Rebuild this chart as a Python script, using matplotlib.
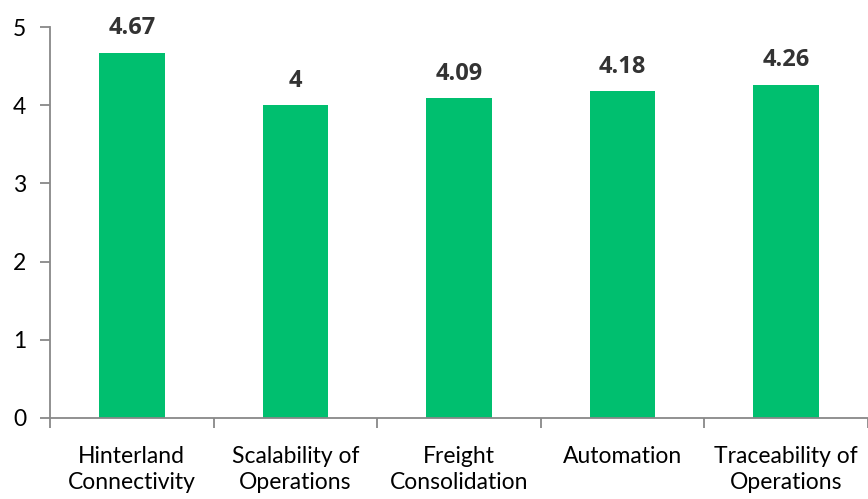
import numpy as np
import matplotlib.pyplot as plt

categories = ["Hinterland\nConnectivity", "Scalability of\nOperations", "Freight\nConsolidation",
              "Automation", "Traceability of\nOperations"]
scores = [4.67, 4, 4.09, 4.18, 4.26]
score_labels = ["4.67", "4", "4.09", "4.18", "4.26"]

plt.rcParams['font.family'] = ['Lato', 'DejaVu Sans']

fig = plt.figure(figsize=(8.68, 4.99), dpi=100)
ax = fig.add_axes([50 / 868, 1 - 418 / 499, 1 - 50 / 868, (418 - 27) / 499])

x = np.arange(len(categories))
bars = ax.bar(x, scores, width=0.4, color="#00BF6F", zorder=2)

for b, lab in zip(bars, score_labels):
    ax.annotate(lab, (b.get_x() + b.get_width() / 2, b.get_height()),
                xytext=(0, 9), textcoords="offset points", ha="center", va="bottom",
                fontsize=17, fontweight="bold", color="#333333",
                family=["Open Sans", "DejaVu Sans"])

ax.set_xlim(-0.5, len(categories) - 0.5)
ax.set_ylim(0, 5)
ax.set_yticks(range(6))

# category names centred, tick marks between categories
ax.set_xticks(x)
ax.set_xticklabels(categories, fontsize=16.5, linespacing=1.3)
ax.tick_params(axis="x", which="major", length=0, pad=20)
ax.set_xticks(np.arange(-0.5, len(categories)), minor=True)
ax.tick_params(axis="x", which="minor", length=7, color="#888888", width=1.3)
ax.tick_params(axis="y", length=7, color="#888888", width=1.3, labelsize=16.5, pad=10)

for s in ["top", "right"]:
    ax.spines[s].set_visible(False)
for s in ["left", "bottom"]:
    ax.spines[s].set_color("#888888")
    ax.spines[s].set_linewidth(1.3)

fig.savefig("out.png", dpi=100)
